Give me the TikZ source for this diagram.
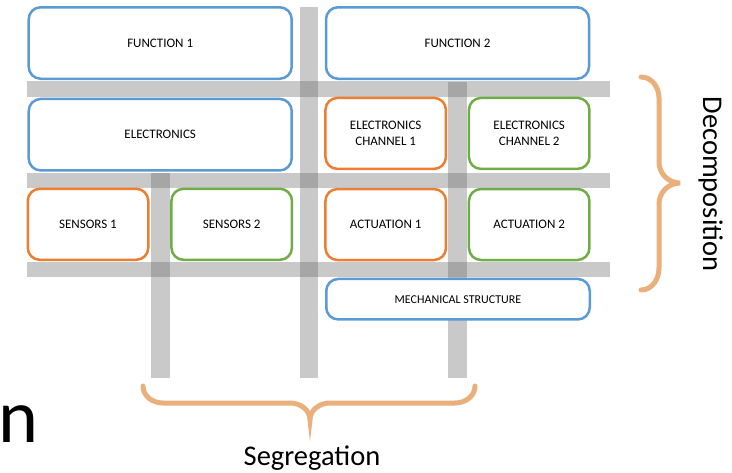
\documentclass[tikz,border=0pt]{standalone}
\usepackage{fontspec}
\setmainfont{Carlito}
\usepackage{tikz}
\definecolor{boxblue}{RGB}{91,155,213}
\definecolor{boxorange}{RGB}{237,125,49}
\definecolor{boxgreen}{RGB}{112,173,71}
\definecolor{bargray}{RGB}{104,104,104}
\definecolor{bracetan}{RGB}{233,176,124}

\begin{document}
\begin{tikzpicture}[x=1pt, y=-1pt,
  every node/.style = {align=center, inner sep=0pt,
    font=\fontsize{13}{16}\selectfont}]
    \tikzstyle{box}=[draw, line width=2.5pt, fill=white, rounded corners=12pt]
    \tikzstyle{widebox}=[box, minimum width=263pt, minimum height=71.5pt]
    \tikzstyle{smallbox}=[box, minimum width=120.5pt, minimum height=71pt]
    \tikzstyle{bar}=[fill=bargray, fill opacity=0.36]
    \tikzstyle{curly}=[draw=bracetan, line width=5pt, line cap=round]
    \tikzstyle{label}=[font=\fontsize{28.5}{30}\selectfont]

  \useasboundingbox (0,0) rectangle (732,472);

  \fill[bar] (27,81) rectangle (610,96.7);
  \fill[bar] (27,172.7) rectangle (610,188.3);
  \fill[bar] (27,261.7) rectangle (610,276.7);
  \fill[bar] (299.5,7) rectangle (318,378);
  \fill[bar] (151,172.7) rectangle (170,378);
  \fill[bar] (448,81.7) rectangle (467,378);

  \node[widebox, draw=boxblue] (fn1) at (160.2,43) {FUNCTION 1};
  \node[widebox, draw=boxblue] (fn2) at (457.5,43) {FUNCTION 2};
  \node[widebox, draw=boxblue] (elec) at (160.2,134.7) {ELECTRONICS};
  \node[smallbox, draw=boxorange] (ec1) at (385.7,133.4) {ELECTRONICS\\CHANNEL 1};
  \node[smallbox, draw=boxgreen] (ec2) at (529.2,133.4) {ELECTRONICS\\CHANNEL 2};
  \node[smallbox, draw=boxorange] (sens1) at (88,224.3) {SENSORS 1};
  \node[smallbox, draw=boxgreen] (sens2) at (231.7,224.3) {SENSORS 2};
  \node[smallbox, draw=boxorange] (act1) at (385.7,224.5) {ACTUATION 1};
  \node[smallbox, draw=boxgreen] (act2) at (529.2,224.5) {ACTUATION 2};
  \node[box, draw=boxblue, minimum width=263.5pt, minimum height=40.5pt,
    font=\fontsize{12}{14}\selectfont] (mech) at (458,299.2) {MECHANICAL STRUCTURE};

  \draw[curly] (641,77) to[out=0,in=90] (659,98) -- (659,162)
    to[out=-90,in=180] (680,183) to[out=180,in=90] (659,204) -- (659,268)
    to[out=-90,in=0] (641,290);
  \draw[curly] (143,386) to[out=-90,in=180] (163,403) -- (290,403)
    to[out=0,in=90] (310,420) to[out=90,in=180] (330,403) -- (455,403)
    to[out=0,in=-90] (475,386);

  \node[label, rotate=-90, anchor=base] (decomp) at (703,184) {Decomposition};
  \node[label, anchor=base] (segr) at (312,465) {Segregation};
  \node[font=\fontsize{76}{80}\selectfont, anchor=base west] (title) at (-1.5,442.7) {n};
\end{tikzpicture}
\end{document}
